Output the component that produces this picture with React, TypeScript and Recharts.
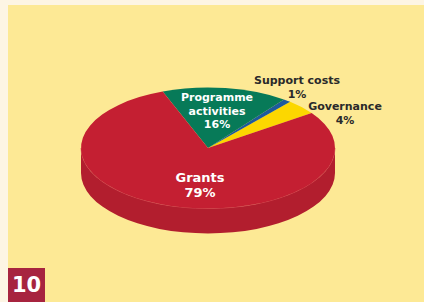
import React from "react";
import { PieChart, Pie } from "recharts";

const names = ["Governance", "Support costs", "Programme activities", "Grants"];
const values = [4, 1, 16, 79];
const colors = ["#FCD700", "#1D5A9C", "#077A58", "#C41F32"];
const labelLines = [["Governance", "4%"], ["Support costs", "1%"], ["Programme", "activities", "16%"], ["Grants", "79%"]];

const data = names.map((name, i) => ({ name, value: values[i] }));

const RX = 127;
const RY = 60.5;
const DEPTH = 25;
const RAD = Math.PI / 180;

const pt = (cx: number, cy: number, a: number, dy = 0) =>
  `${cx + RX * Math.cos(a * RAD)},${cy - RY * Math.sin(a * RAD) + dy}`;

// label anchor offsets from pie centre, and text colour
const labelPos = [
  { dx: 137, dy: -38, fill: "#2a2a2a" },
  { dx: 89, dy: -64, fill: "#2a2a2a" },
  { dx: 9, dy: -47, fill: "#ffffff" },
  { dx: -8, dy: 34, fill: "#ffffff" },
];

const renderSide = (p: any) => {
  const { cx, cy, startAngle, endAngle, index } = p;
  const a1 = Math.max(startAngle, 180);
  const a2 = Math.min(endAngle, 360);
  if (a2 <= a1) return <g key={"s" + index} />;
  const large = a2 - a1 > 180 ? 1 : 0;
  const d = `M${pt(cx, cy, a1)} A${RX} ${RY} 0 ${large} 0 ${pt(cx, cy, a2)} L${pt(cx, cy, a2, DEPTH)} A${RX} ${RY} 0 ${large} 1 ${pt(cx, cy, a1, DEPTH)} Z`;
  return (
    <g key={"s" + index}>
      <path d={d} fill="#B21E2E" />
      <path d={`M${pt(cx, cy, a1)} A${RX} ${RY} 0 ${large} 0 ${pt(cx, cy, a2)}`} fill="none" stroke="#D9525C" strokeWidth={0.7} />
    </g>
  );
};

const renderTop = (p: any) => {
  const { cx, cy, startAngle, endAngle, index } = p;
  const large = endAngle - startAngle > 180 ? 1 : 0;
  const d = `M${cx},${cy} L${pt(cx, cy, startAngle)} A${RX} ${RY} 0 ${large} 0 ${pt(cx, cy, endAngle)} Z`;
  return <path key={"t" + index} d={d} fill={colors[index]} />;
};

const renderText = (p: any) => {
  const { cx, cy, index } = p;
  const pos = labelPos[index];
  const lines = labelLines[index];
  const lh = index === 3 ? 15 : 13.5;
  const fs = index === 3 ? 13 : 11;
  return (
    <text key={"x" + index} x={cx + pos.dx} y={cy + pos.dy} fill={pos.fill} textAnchor="middle"
      fontFamily="DejaVu Sans" fontWeight="bold" fontSize={fs}>
      {lines.map((l, j) => (
        <tspan key={j} x={cx + pos.dx} dy={j === 0 ? 0 : lh}>{l}</tspan>
      ))}
    </text>
  );
};

export default function App() {
  return (
    <div style={{ position: "fixed", left: 0, top: 0, width: 424, height: 302, background: "#FDF5E4", overflow: "hidden" }}>
      <div style={{ position: "absolute", left: 8, top: 5, right: 0, bottom: 0, background: "#FDE995" }} />
      <div style={{ position: "absolute", left: 8, top: 268, width: 37, height: 34, background: "#A7243F", color: "#fff",
        fontFamily: "DejaVu Sans", fontWeight: "bold", fontSize: 21, lineHeight: "35px", textAlign: "center" }}>10</div>
      <div style={{ position: "absolute", left: 0, top: 0 }}>
        <PieChart width={424} height={302}>
          <Pie data={data} dataKey="value" nameKey="name" cx={203} cy={143} outerRadius={RX}
            startAngle={35.3} endAngle={395.3} fill="transparent" stroke="none"
            label={renderSide} labelLine={false} isAnimationActive={false} />
          <Pie data={data} dataKey="value" nameKey="name" cx={203} cy={143} outerRadius={RX}
            startAngle={35.3} endAngle={395.3} fill="transparent" stroke="none"
            label={renderTop} labelLine={false} isAnimationActive={false} />
          <Pie data={data} dataKey="value" nameKey="name" cx={203} cy={143} outerRadius={RX}
            startAngle={35.3} endAngle={395.3} fill="transparent" stroke="none"
            label={renderText} labelLine={false} isAnimationActive={false} />
        </PieChart>
      </div>
    </div>
  );
}
